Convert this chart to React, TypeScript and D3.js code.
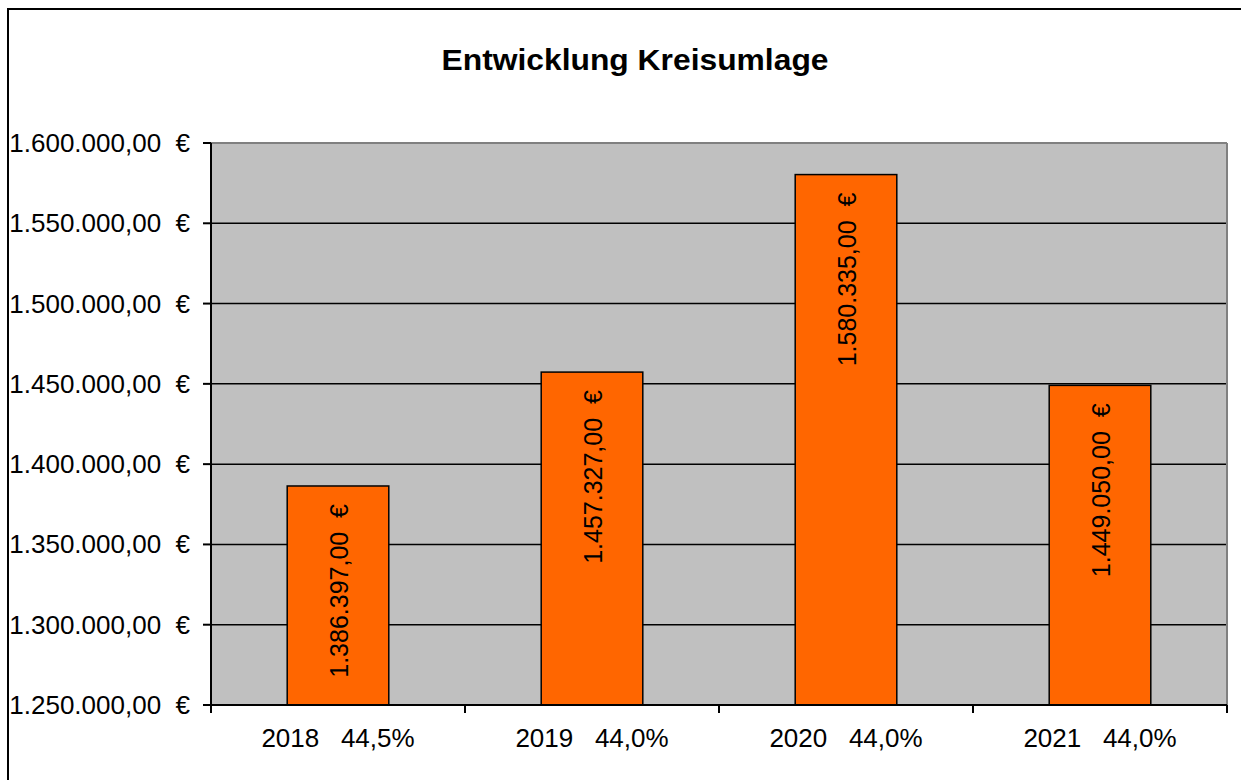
import React from "react";
import * as d3 from "d3";

const title = "Entwicklung Kreisumlage";
const years = ["2018", "2019", "2020", "2021"];
const rates = ["44,5%", "44,0%", "44,0%", "44,0%"];
const values = [1386397, 1457327, 1580335, 1449050];
const yTicks = [1250000, 1300000, 1350000, 1400000, 1450000, 1500000, 1550000, 1600000];

const fmt = (v: number) => {
  const s = d3.format(",.2f")(v);
  return s.replace(/,/g, "#").replace(/\./g, ",").replace(/#/g, ".") + "  €";
};

export default function App() {
  const left = 211, right = 1227, top = 143, bottom = 705;
  const x = d3.scaleBand<string>().domain(years).range([left, right]).paddingInner(0).paddingOuter(0);
  const y = d3.scaleLinear().domain([1250000, 1600000]).range([bottom, top]);
  const bw = x.bandwidth() * 0.4;
  const font = "'Liberation Sans', Arial, sans-serif";
  return (
    <svg width={1241} height={780} style={{ position: "absolute", left: 0, top: 0, background: "#fff" }} fontFamily={font}>
      <rect x={8} y={9} width={1300} height={900} fill="#fff" stroke="#000" strokeWidth={2} />
      <text x={635} y={70} textAnchor="middle" fontSize={30} fontWeight="bold" textLength={387} lengthAdjust="spacingAndGlyphs">{title}</text>
      <rect x={left} y={top} width={right - left} height={bottom - top} fill="#C0C0C0" />
      {yTicks.slice(0, -1).map((t) => (
        <line key={t} x1={left} x2={right} y1={y(t)} y2={y(t)} stroke="#000" strokeWidth={1.5} />
      ))}
      <line x1={left} x2={right} y1={top} y2={top} stroke="#808080" strokeWidth={2} />
      <line x1={right} x2={right} y1={top} y2={bottom} stroke="#808080" strokeWidth={2} />
      {values.map((v, i) => {
        const cx = (x(years[i]) as number) + x.bandwidth() / 2;
        return (
          <g key={i}>
            <rect x={cx - bw / 2} y={y(v)} width={bw} height={bottom - y(v)} fill="#FF6600" stroke="#000" strokeWidth={1.5} />
            <text transform={`translate(${cx + 10},${y(v) + 18}) rotate(-90)`} textAnchor="end" fontSize={25} style={{ whiteSpace: "pre" }}>{fmt(v)}</text>
          </g>
        );
      })}
      <line x1={left} x2={left} y1={top} y2={bottom + 8} stroke="#000" strokeWidth={2} />
      <line x1={left} x2={right} y1={bottom} y2={bottom} stroke="#000" strokeWidth={2} />
      {yTicks.map((t) => (
        <g key={t}>
          <line x1={left - 8} x2={left} y1={y(t)} y2={y(t)} stroke="#000" strokeWidth={2} />
          <text x={190} y={y(t) + 9} textAnchor="end" fontSize={26} style={{ whiteSpace: "pre" }}>{fmt(t)}</text>
        </g>
      ))}
      {years.map((yr, i) => {
        const x0 = x(yr) as number;
        return (
          <g key={yr}>
            <line x1={x0 + x.bandwidth()} x2={x0 + x.bandwidth()} y1={bottom} y2={bottom + 8} stroke="#000" strokeWidth={2} />
            <text x={x0 + x.bandwidth() / 2} y={747} textAnchor="middle" fontSize={26} style={{ whiteSpace: "pre" }}>{`${yr}   ${rates[i]}`}</text>
          </g>
        );
      })}
    </svg>
  );
}
